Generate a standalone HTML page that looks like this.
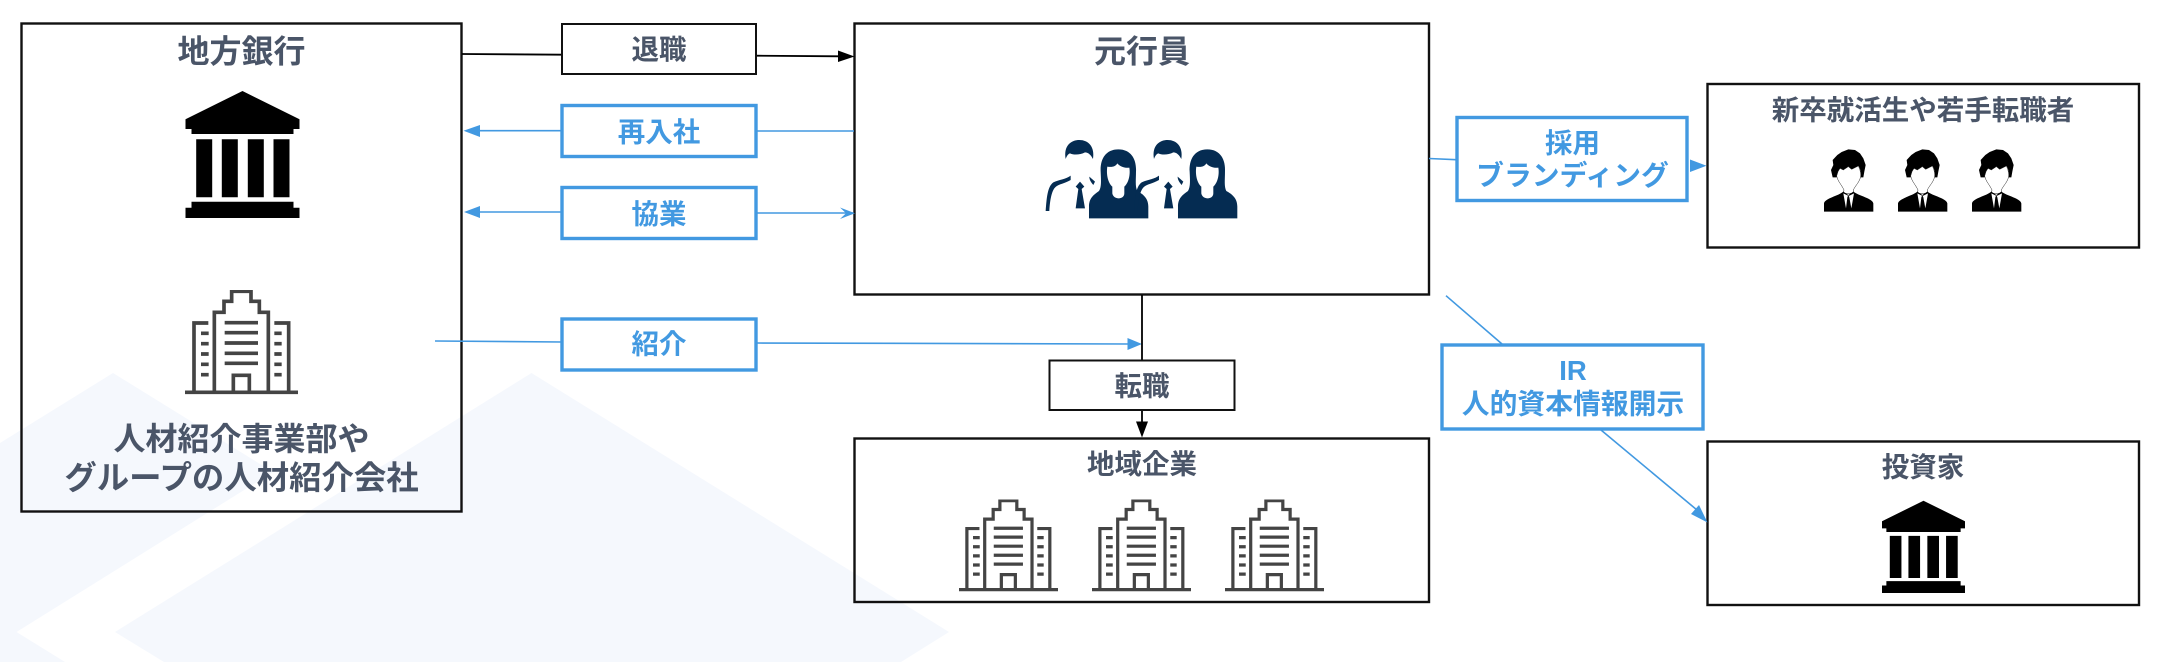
<!DOCTYPE html>
<html lang="ja"><head><meta charset="utf-8"><style>
html,body{margin:0;padding:0;background:#fff;width:2158px;height:662px;overflow:hidden}
svg{display:block}
text{font-family:"Liberation Sans","Noto Sans CJK JP",sans-serif;font-weight:700;text-anchor:middle}
.g{fill:#4a5568}.b{fill:#4299e1}
.box{fill:none;stroke:#111;stroke-width:2.4}
.bb{fill:#fff;stroke:#4299e1;stroke-width:3.4}
.wb{fill:#fff;stroke:#111;stroke-width:2}
.bl{stroke:#4299e1;stroke-width:1.6;fill:none}
.kl{stroke:#000;stroke-width:1.8;fill:none}
</style></head><body>
<svg width="2158" height="662" viewBox="0 0 2158 662" xmlns="http://www.w3.org/2000/svg">
<defs>
<g id="bank"><path d="M0,28.3 L57,0 L114,28.3 V38 H108 V43 H6 V38 H0Z"/><path d="M10.7,48.3h16v58h-16zM36.3,48.3h16v58h-16zM62.3,48.3h16v58h-16zM88,48.3h16v58h-16z"/><path d="M6,110.7 H108 V116.7 H114 V127 H0 V116.7 H6Z"/></g>
<symbol id="bld" viewBox="45 28 339 315" preserveAspectRatio="none">
<g fill="none" stroke="#444" stroke-width="11"><path d="M45,335H384"/><path d="M72,335V127H115"/><path d="M133,335V95H162V62H185V32H243V62H268V95H295V335"/><path d="M313,127H356V335"/><path d="M190,335V284H238V335"/><path d="M164,126H264M164,156H264M164,187H264M164,218H264M164,248H264"/><path d="M93,158H116M93,189H116M93,220H116M93,251H116M93,282H116M313,158H335M313,189H335M313,220H335M313,251H335M313,282H335"/></g>
</symbol>
<g id="man"><path d="M107,102C100,60 125,45 148,45C175,45 195,65 189,102C183,90 175,82 165,82C150,90 130,90 120,85C112,88 110,95 107,102Z"/><path d="M47,258C50,220 52,185 70,172C85,165 110,162 122,152L122,165C105,175 85,178 78,185C65,195 60,225 58,258Z"/><path d="M150,170L163,185L155,192L165,250H137L145,192L137,185Z"/><path d="M178,155L195,170L190,180C183,172 178,165 178,155Z"/></g>
<g id="woman"><path d="M265,73C225,73 210,105 212,140C213,165 215,185 207,198C190,210 177,220 177,245V280H355V245C355,220 340,208 322,198C315,185 318,165 318,140C320,105 305,73 265,73Z"/><path fill="#fff" d="M232,125C250,128 258,122 262,115C270,125 285,130 298,128C302,150 295,175 283,185V205C283,225 250,225 247,205V185C235,175 228,150 232,125Z"/></g>
<g id="person"><path d="M68,112L63,90L70,75L68,60L82,45L95,36L115,28L135,30L150,40L160,55L167,75L163,95L160,112L152,112C154,95 150,85 145,78L125,88L115,80L100,90L90,85L84,95L80,112Z"/><path fill="#fff" stroke="#222" stroke-width="1.5" d="M80,108C84,125 95,135 102,150L100,160H132L130,150C137,135 150,125 152,108C152,92 148,84 145,78L125,88L115,80L100,90L90,85L84,95Z"/><path d="M42,215V190C45,175 85,168 100,155L115,165L130,155C147,168 187,175 190,190V215Z"/><path fill="#fff" d="M100,160L108,205L112,172L115,165L118,172L124,205L132,160L116,168Z"/></g>
</defs>

<polygon fill="#f5f8fd" points="113,373 273,472 16.5,632 65,662 0,662 0,443"/>
<polygon fill="#f5f8fd" points="531.5,373 949,632 901,662 164,662 115,632"/>

<rect class="box" x="21.5" y="23.5" width="440" height="488"/>
<rect class="box" x="854.5" y="23.5" width="574.5" height="271"/>
<rect class="box" x="854.5" y="438.5" width="574.5" height="163.5"/>
<rect class="box" x="1707.5" y="84" width="431.5" height="163.5"/>
<rect class="box" x="1707.5" y="441.5" width="431.5" height="163.5"/>

<!-- connectors -->
<path class="kl" d="M462,54L562,54.7M756,55.7L840,56.3"/>
<polygon points="854.5,56.5 838,50.5 838,62"/>
<path class="bl" d="M479,130.7H562M757,131H854"/>
<polygon class="b" points="463.5,130.7 480,125 480,137"/>
<path class="bl" d="M479,212H562M757,213H853"/>
<polygon class="b" points="464,212 480,206 480,218"/>
<polygon class="b" points="855,213.3 840,207.5 846,213.3 840,219"/>
<path class="bl" d="M435,341L562,342M757,343L1130,344"/>
<polygon class="b" points="1142,344 1127.5,338 1127.5,350"/>
<path class="kl" d="M1142,295V360M1142,410V424"/>
<polygon points="1142,437.5 1136,421.5 1148,421.5"/>
<path class="bl" d="M1429,158.5L1456,159.7"/>
<polygon class="b" points="1706.5,165.7 1690,159.5 1690,172"/>
<path class="bl" d="M1446,295.7L1502,344M1601,430L1697,510"/>
<polygon class="b" points="1707.5,522.5 1691,514 1699,505"/>

<!-- label boxes -->
<rect class="wb" x="562" y="24" width="194" height="50"/>
<rect class="bb" x="562" y="105.5" width="194" height="51"/>
<rect class="bb" x="562" y="187.5" width="194" height="51"/>
<rect class="bb" x="562" y="319" width="194" height="51"/>
<rect class="wb" x="1049.5" y="360.5" width="185" height="49.5"/>
<rect class="bb" x="1457" y="117.5" width="230" height="83"/>
<rect class="bb" x="1442" y="345" width="261" height="84"/>

<!-- icons -->
<use href="#bank" x="185.5" y="91"/>
<use href="#bank" transform="translate(1882,500.7) scale(.728,.727)"/>
<use href="#bld" x="185" y="290" width="113" height="105"/>
<use href="#bld" x="959" y="499.5" width="99" height="92.5"/>
<use href="#bld" x="1092" y="499.5" width="99" height="92.5"/>
<use href="#bld" x="1225" y="499.5" width="99" height="92.5"/>
<g fill="#052c52" transform="translate(1030,125) scale(.3333)">
<use href="#man"/><use href="#woman"/>
<use href="#man" x="265"/><use href="#woman" x="267"/>
</g>
<g transform="translate(1810,140) scale(.3333)"><use href="#person"/></g>
<g transform="translate(1884,140) scale(.3333)"><use href="#person"/></g>
<g transform="translate(1958,140) scale(.3333)"><use href="#person"/></g>

<!-- text -->
<g class="g">
<text x="241.5" y="62.5" font-size="32">地方銀行</text>
<text x="1142" y="62.5" font-size="32">元行員</text>
<text x="241.5" y="450" font-size="32">人材紹介事業部や</text>
<text x="241.5" y="489" font-size="32.4">グループの人材紹介会社</text>
<text x="659" y="59" font-size="27.5">退職</text>
<text x="1142" y="395.3" font-size="27.5">転職</text>
<text x="1142" y="473.3" font-size="27.5">地域企業</text>
<text x="1923" y="119.3" font-size="27.5">新卒就活生や若手転職者</text>
<text x="1923" y="476.4" font-size="27.5">投資家</text>
</g>
<g class="b">
<text x="659" y="141.6" font-size="27.5">再入社</text>
<text x="659" y="223.6" font-size="27.5">協業</text>
<text x="659" y="353.6" font-size="27.5">紹介</text>
<text x="1572.5" y="152.3" font-size="27.5">採用</text>
<text x="1572.5" y="184.8" font-size="27.8">ブランディング</text>
<text x="1573" y="380" font-size="27.5">IR</text>
<text x="1573" y="413.5" font-size="27.8">人的資本情報開示</text>
</g>
</svg>
</body></html>
